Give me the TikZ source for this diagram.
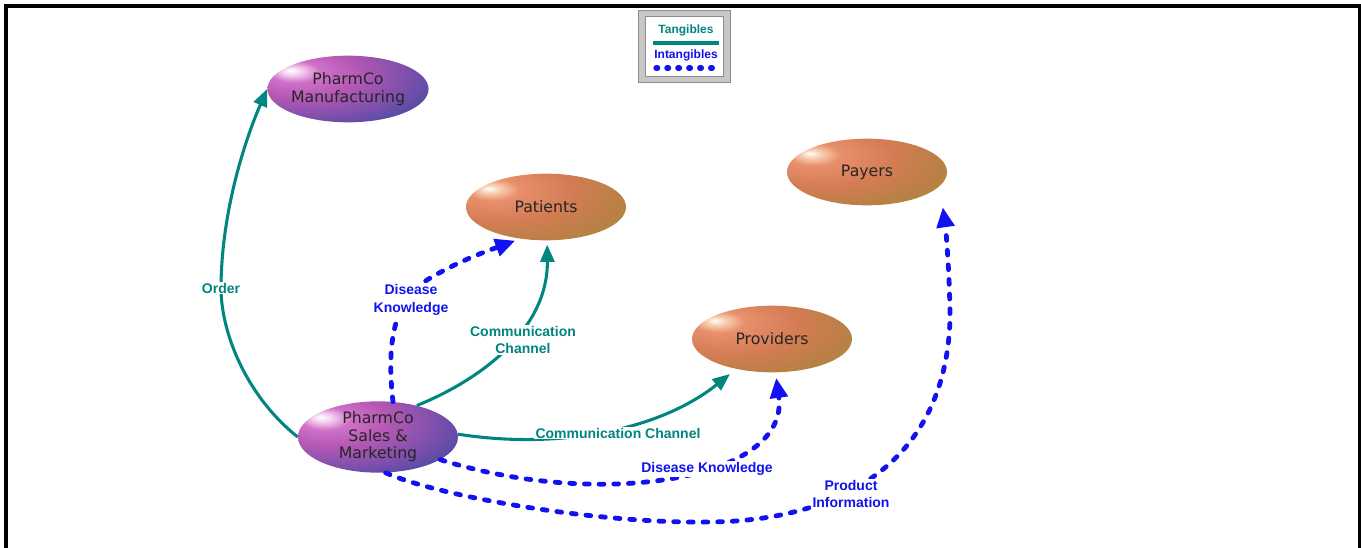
\documentclass[tikz,border=0pt]{standalone}
\usepackage{fontspec}
\setmainfont{Liberation Sans}
\newfontfamily\nodefont{DejaVu Sans}
\usetikzlibrary{shapes.geometric,arrows.meta}
\definecolor{tealc}{HTML}{00857F}
\definecolor{bluec}{HTML}{1212F0}
\definecolor{pA}{HTML}{F4D0F0}
\definecolor{pB}{HTML}{D070C8}
\definecolor{pC}{HTML}{B458B4}
\definecolor{pD}{HTML}{8050AC}
\definecolor{pE}{HTML}{4A4AA2}
\definecolor{pF}{HTML}{3A3A8C}
\definecolor{oA}{HTML}{F8D0B4}
\definecolor{oB}{HTML}{E8906C}
\definecolor{oC}{HTML}{D47C54}
\definecolor{oD}{HTML}{B88044}
\definecolor{oE}{HTML}{A89C38}
\definecolor{oF}{HTML}{8C7A30}
\pgfdeclareradialshading{purpball}{\pgfpoint{-18bp}{14bp}}{color(0bp)=(white); color(3bp)=(pA); color(8bp)=(pB); color(18bp)=(pC); color(30bp)=(pD); color(42bp)=(pE); color(56bp)=(pF); color(100bp)=(pF)}
\pgfdeclareradialshading{orball}{\pgfpoint{-18bp}{14bp}}{color(0bp)=(white); color(3bp)=(oA); color(8bp)=(oB); color(22bp)=(oC); color(36bp)=(oD); color(48bp)=(oE); color(62bp)=(oF); color(100bp)=(oF)}
\tikzset{
  ent/.style={ellipse, minimum width=120pt, minimum height=50pt, inner sep=0pt, align=center,
    font=\nodefont\fontsize{11.8}{13.2}\selectfont, text=black!85},
  purp/.style={ent, shade, shading=purpball},
  oran/.style={ent, shade, shading=orball},
  tang/.style={draw=tealc, line width=2.3pt, -{Triangle[length=13pt,width=10.5pt]}},
  intang/.style={draw=bluec, line width=3.6pt, line cap=round, dash pattern=on 3.6pt off 7.4pt,
    -{Triangle[length=15pt,width=13pt]}},
  tlab/.style={text=tealc, font=\bfseries\fontsize{10.5}{13}\selectfont, fill=white, inner sep=1pt, align=center},
  ilab/.style={text=bluec, font=\bfseries\fontsize{10.5}{13}\selectfont, fill=white, inner sep=1pt, align=center},
  leglab/.style={font=\bfseries\fontsize{9}{10}\selectfont, inner sep=0pt},
}
\begin{document}
\begin{tikzpicture}[x=0.75pt,y=-0.75pt]
\useasboundingbox (0,0) rectangle (1361,548);
% frame
\draw[line width=2.3pt] (6,548) -- (6,6) -- (1359.5,6) -- (1359.5,548);
% legend
\node[draw=black!45, fill=black!22, line width=0.6pt, minimum width=69pt, minimum height=54pt, inner sep=0pt] (legout) at (684,46) {};
\node[draw=black!45, fill=white, line width=0.6pt, minimum width=59pt, minimum height=45pt, inner sep=0pt] (legin) at (684.5,46) {};
\node[leglab, text=tealc] (ltang) at (686,30) {Tangibles};
\node[leglab, text=bluec] (lintang) at (686,55) {Intangibles};
\coordinate (lt1) at (653,43); \coordinate (lt2) at (719,43);
\coordinate (li1) at (656,68); \coordinate (li2) at (717,68);
\draw[tealc, line width=2.3pt] (lt1) -- (lt2);
\draw[bluec, line width=4pt, line cap=round, dash pattern=on 1.2pt off 7pt] (li1) -- (li2);
% nodes
\node[purp] (mf) at (348,89) {PharmCo\\Manufacturing};
\node[oran] (pt) at (546,207) {Patients};
\node[oran] (py) at (867,172) {Payers};
\node[oran] (pv) at (772,339) {Providers};
\node[purp] (sm) at (378,437) {PharmCo\\Sales \&\\Marketing};
% connectors
\draw[tang] (sm.west) .. controls (245,395) and (220,330) .. (221,285)
  .. controls (222,210) and (245,140) .. (mf.west);
\draw[intang, shorten >=4pt] (sm.67) .. controls (386,340) and (395,300) .. (427,280)
  .. controls (460,260) and (490,250) .. (pt.231);
\draw[tang, shorten >=3pt] (sm.39) .. controls (480,380) and (548,330) .. (pt.272);
\draw[tang, shorten >=6pt] (sm.2) .. controls (560,450) and (660,430) .. (pv.220);
\draw[intang, shorten >=4pt] (sm.340) .. controls (600,510) and (790,480) .. (pv.276);
\draw[intang, shorten >=16pt] (sm.282) .. controls (440,497) and (600,524) .. (710,522)
  .. controls (830,521) and (945,470) .. (950,320)
  .. controls (950,280) and (946,230) .. (py.349);
% labels
\node[tlab] (lorder) at (221,288) {Order};
\node[ilab] (ldk1) at (411,300) {Disease\\Knowledge};
\node[tlab] (lcc1) at (523,340) {Communication\\Channel};
\node[tlab] (lcc2) at (618,433) {Communication Channel};
\node[ilab] (ldk2) at (707,469) {Disease Knowledge};
\node[ilab] (lpi) at (851,494) {Product\\Information};
\end{tikzpicture}
\end{document}
